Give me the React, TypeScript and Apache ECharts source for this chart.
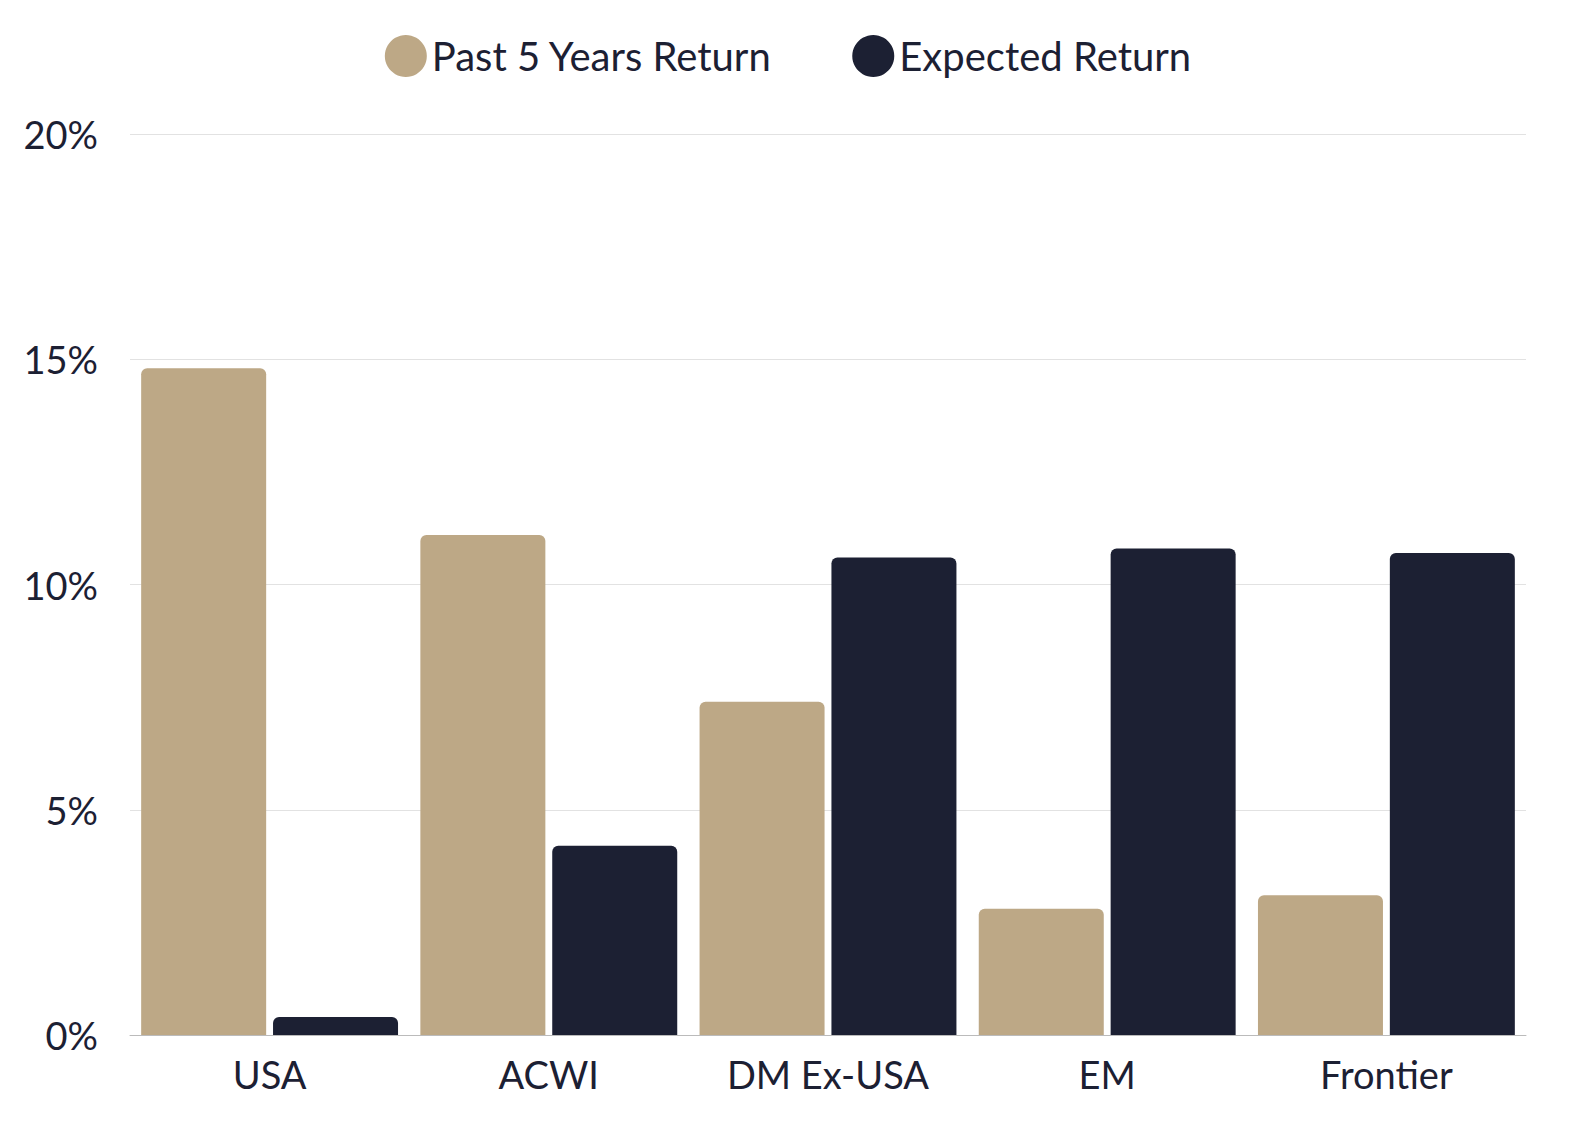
import React, { useEffect, useRef } from 'react'
import * as echarts from 'echarts'

const categories = ['USA', 'ACWI', 'DM Ex-USA', 'EM', 'Frontier']
const pastReturn = [14.8, 11.1, 7.4, 2.8, 3.1]
const expectedReturn = [0.4, 4.2, 10.6, 10.8, 10.7]
const seriesNames = ['Past 5 Years Return', 'Expected Return']

const textColor = '#1c2033'
const font = 'Lato'

function App() {
  const ref = useRef<HTMLDivElement>(null)
  useEffect(() => {
    const chart = echarts.init(ref.current as HTMLDivElement, undefined, { renderer: 'svg' })
    chart.setOption({
      animation: false,
      legend: {
        top: 22,
        left: 'center',
        icon: 'circle',
        itemWidth: 42,
        itemHeight: 42,
        itemGap: 80,
        textStyle: { fontSize: 40, color: textColor, fontFamily: font },
        data: seriesNames,
      },
      grid: { left: 122, right: 42, top: 126, bottom: 81 },
      xAxis: {
        type: 'category',
        data: categories,
        axisTick: { show: false },
        axisLine: { lineStyle: { color: '#bbbbbb' } },
        axisLabel: { fontSize: 38, color: textColor, fontFamily: font, margin: 20 },
      },
      yAxis: {
        type: 'value',
        min: 0,
        max: 20,
        interval: 5,
        axisLabel: { formatter: '{value}%', fontSize: 38, color: textColor, fontFamily: font, margin: 32 },
        splitLine: { lineStyle: { color: '#e2e2e2' } },
      },
      series: [
        {
          name: seriesNames[0],
          type: 'bar',
          data: pastReturn,
          barWidth: 125,
          barGap: '5.5%',
          itemStyle: { color: '#bda886', borderRadius: [6, 6, 0, 0] },
        },
        {
          name: seriesNames[1],
          type: 'bar',
          data: expectedReturn,
          barWidth: 125,
          itemStyle: { color: '#1c2033', borderRadius: [6, 6, 0, 0] },
        },
      ],
    })
    return () => chart.dispose()
  }, [])
  return <div ref={ref} style={{ width: 1560, height: 1108 }} />
}

export default App
